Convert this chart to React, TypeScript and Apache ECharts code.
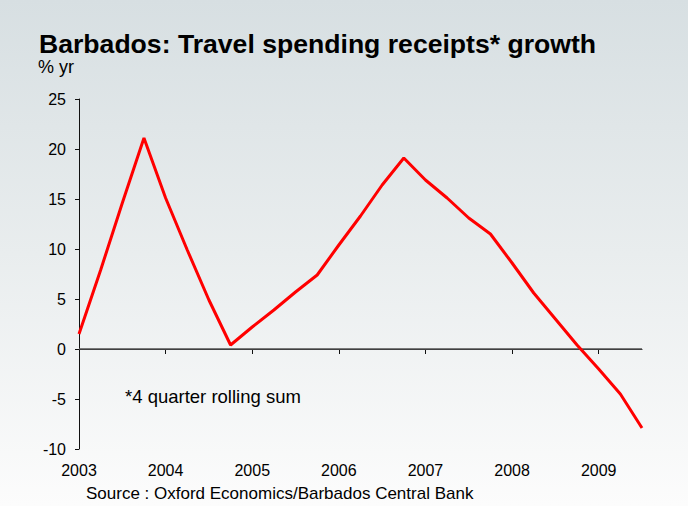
import React, { useEffect, useRef } from "react";
import * as echarts from "echarts";

// Quarterly observations, 2003 Q1 to 2009 Q3
const quarters: string[] = [
  "2003 Q1", "2003 Q2", "2003 Q3", "2003 Q4",
  "2004 Q1", "2004 Q2", "2004 Q3", "2004 Q4",
  "2005 Q1", "2005 Q2", "2005 Q3", "2005 Q4",
  "2006 Q1", "2006 Q2", "2006 Q3", "2006 Q4",
  "2007 Q1", "2007 Q2", "2007 Q3", "2007 Q4",
  "2008 Q1", "2008 Q2", "2008 Q3", "2008 Q4",
  "2009 Q1", "2009 Q2", "2009 Q3",
];

// Travel spending receipts growth, % yr
const growth: number[] = [
  1.5, 7.9, 14.6, 21.1,
  15.1, 9.9, 4.9, 0.4,
  2.2, 3.9, 5.7, 7.4,
  10.4, 13.3, 16.4, 19.1,
  16.9, 15.1, 13.1, 11.5,
  8.6, 5.6, 3.0, 0.4,
  -2.0, -4.5, -7.9,
];

const yTicks = { min: -10, max: 25, step: 5 };

const titleText = "Barbados: Travel spending receipts* growth";
const unitText = "% yr";
const noteText = "*4 quarter rolling sum";
const sourceText = "Source : Oxford Economics/Barbados Central Bank";

const FONT = "Arial, 'Liberation Sans', Helvetica, sans-serif";

export default function App() {
  const ref = useRef<HTMLDivElement>(null);

  useEffect(() => {
    if (!ref.current) return;
    const chart = echarts.init(ref.current, undefined, { renderer: "svg" });
    chart.setOption({
      animation: false,
      backgroundColor: {
        type: "linear",
        x: 0, y: 0, x2: 0, y2: 1,
        colorStops: [
          { offset: 0, color: "#d7dfe2" },
          { offset: 0.5, color: "#e9edee" },
          { offset: 1, color: "#fcfcfc" },
        ],
      },
      textStyle: { fontFamily: FONT },
      grid: { left: 79, right: 46, top: 99, bottom: 57, containLabel: false },
      xAxis: {
        type: "category",
        data: quarters,
        boundaryGap: false,
        axisLine: { show: true, lineStyle: { color: "#111", width: 1 } },
        axisTick: { show: true, interval: 3, length: 5, lineStyle: { color: "#111" } },
        axisLabel: {
          interval: 3,
          margin: 13,
          color: "#000",
          fontSize: 16,
          fontFamily: FONT,
          formatter: (v: string) => v.slice(0, 4),
        },
        splitLine: { show: false },
      },
      yAxis: {
        type: "value",
        min: yTicks.min,
        max: yTicks.max,
        interval: yTicks.step,
        axisLine: { show: true, lineStyle: { color: "#111", width: 1 } },
        axisTick: { show: true, length: 4, lineStyle: { color: "#111" } },
        axisLabel: { color: "#000", fontSize: 16, margin: 13, fontFamily: FONT },
        splitLine: { show: false },
      },
      series: [
        {
          type: "line",
          data: growth,
          symbol: "none",
          lineStyle: { color: "#ff0000", width: 3 },
          z: 3,
          markLine: {
            silent: true,
            symbol: "none",
            label: { show: false },
            lineStyle: { color: "#505050", width: 1.5, type: "solid" },
            data: [{ yAxis: 0 }],
            z: 2,
          },
        },
      ],
      graphic: [
        {
          type: "text",
          left: 39,
          top: 30,
          style: { text: titleText, font: `bold 26.6px ${FONT}`, fill: "#000" },
        },
        {
          type: "text",
          left: 38,
          top: 58,
          style: { text: unitText, font: `18px ${FONT}`, fill: "#000" },
        },
        {
          type: "text",
          left: 125,
          top: 387,
          style: { text: noteText, font: `18.5px ${FONT}`, fill: "#000" },
        },
        {
          type: "text",
          left: 86,
          top: 485,
          style: { text: sourceText, font: `17px ${FONT}`, fill: "#000" },
        },
      ],
    });
    return () => chart.dispose();
  }, []);

  return (
    <div
      ref={ref}
      style={{ position: "fixed", left: 0, top: 0, width: 688, height: 506 }}
    />
  );
}
